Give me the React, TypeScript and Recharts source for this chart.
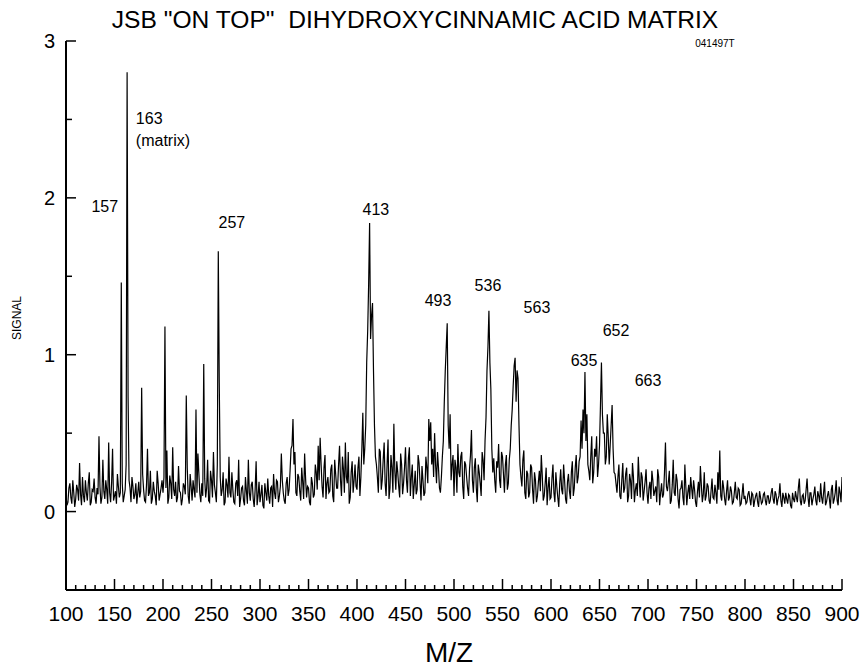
import React from 'react';
import { LineChart, Line, XAxis, YAxis, ReferenceDot } from 'recharts';

// Spectrum readings at even m/z, 100 to 900
const EVEN_START = 100;
const evenSignal: number[] = [
  /* 100 */ 0.10, 0.06, 0.18, 0.05, 0.12, 0.08, 0.14, 0.31, 0.04, 0.10,
  /* 120 */ 0.20, 0.07, 0.25, 0.06, 0.13, 0.09, 0.15, 0.48, 0.05, 0.33,
  /* 140 */ 0.08, 0.14, 0.44, 0.06, 0.40, 0.10, 0.05, 0.16, 0.12, 0.18,
  /* 160 */ 0.10, 0.30, 0.73, 0.15, 0.22, 0.08, 0.18, 0.12, 0.09, 0.79,
  /* 180 */ 0.14, 0.06, 0.40, 0.12, 0.05, 0.19, 0.10, 0.26, 0.07, 0.15,
  /* 200 */ 0.12, 1.18, 0.39, 0.09, 0.18, 0.41, 0.10, 0.06, 0.29, 0.12,
  /* 220 */ 0.08, 0.16, 0.74, 0.10, 0.24, 0.07, 0.14, 0.65, 0.37, 0.11,
  /* 240 */ 0.18, 0.94, 0.09, 0.33, 0.06, 0.20, 0.38, 0.12, 0.30, 0.82,
  /* 260 */ 0.10, 0.25, 0.06, 0.17, 0.35, 0.09, 0.14, 0.05, 0.20, 0.33,
  /* 280 */ 0.08, 0.16, 0.04, 0.13, 0.33, 0.07, 0.19, 0.03, 0.32, 0.10,
  /* 300 */ 0.06, 0.17, 0.02, 0.12, 0.21, 0.05, 0.16, 0.24, 0.08, 0.19,
  /* 320 */ 0.10, 0.37, 0.12, 0.05, 0.22, 0.14, 0.40, 0.59, 0.38, 0.10,
  /* 340 */ 0.22, 0.07, 0.19, 0.37, 0.09, 0.15, 0.04, 0.18, 0.11, 0.25,
  /* 360 */ 0.42, 0.47, 0.16, 0.28, 0.08, 0.22, 0.13, 0.30, 0.06, 0.24,
  /* 380 */ 0.15, 0.42, 0.10, 0.27, 0.44, 0.18, 0.05, 0.25, 0.12, 0.30,
  /* 400 */ 0.14, 0.35, 0.22, 0.63, 0.40, 0.95, 1.45, 1.10, 1.33, 0.55,
  /* 420 */ 0.30, 0.12, 0.38, 0.20, 0.44, 0.10, 0.46, 0.15, 0.28, 0.56,
  /* 440 */ 0.14, 0.25, 0.09, 0.30, 0.18, 0.41, 0.12, 0.41, 0.22, 0.08,
  /* 460 */ 0.26, 0.14, 0.31, 0.07, 0.20, 0.12, 0.28, 0.59, 0.57, 0.40,
  /* 480 */ 0.50, 0.18, 0.28, 0.12, 0.35, 0.70, 1.05, 0.55, 0.62, 0.30,
  /* 500 */ 0.10, 0.28, 0.43, 0.22, 0.38, 0.08, 0.30, 0.15, 0.27, 0.52,
  /* 520 */ 0.12, 0.34, 0.06, 0.25, 0.10, 0.33, 0.45, 0.90, 1.28, 0.78,
  /* 540 */ 0.25, 0.20, 0.32, 0.43, 0.15, 0.35, 0.12, 0.36, 0.18, 0.40,
  /* 560 */ 0.65, 0.93, 0.70, 0.85, 0.30, 0.16, 0.39, 0.08, 0.24, 0.12,
  /* 580 */ 0.28, 0.05, 0.20, 0.10, 0.26, 0.36, 0.07, 0.18, 0.04, 0.22,
  /* 600 */ 0.09, 0.30, 0.06, 0.16, 0.03, 0.27, 0.11, 0.20, 0.05, 0.24,
  /* 620 */ 0.08, 0.32, 0.15, 0.36, 0.22, 0.35, 0.40, 0.50, 0.45, 0.30,
  /* 640 */ 0.20, 0.48, 0.25, 0.35, 0.22, 0.42, 0.95, 0.50, 0.30, 0.62,
  /* 660 */ 0.30, 0.55, 0.40, 0.24, 0.12, 0.30, 0.08, 0.31, 0.15, 0.28,
  /* 680 */ 0.10, 0.20, 0.31, 0.06, 0.18, 0.35, 0.09, 0.22, 0.13, 0.27,
  /* 700 */ 0.05, 0.19, 0.26, 0.10, 0.16, 0.27, 0.04, 0.18, 0.11, 0.44,
  /* 720 */ 0.13, 0.26, 0.07, 0.33, 0.10, 0.20, 0.02, 0.15, 0.09, 0.30,
  /* 740 */ 0.04, 0.17, 0.22, 0.08, 0.14, 0.03, 0.19, 0.29, 0.06, 0.25,
  /* 760 */ 0.10, 0.16, 0.05, 0.21, 0.08, 0.12, 0.25, 0.39, 0.07, 0.15,
  /* 780 */ 0.04, 0.20, 0.09, 0.13, 0.06, 0.19, 0.08, 0.14, 0.05, 0.18,
  /* 800 */ 0.10, 0.06, 0.13, 0.04, 0.11, 0.07, 0.12, 0.03, 0.09, 0.06,
  /* 820 */ 0.12, 0.04, 0.10, 0.07, 0.15, 0.05, 0.11, 0.08, 0.18, 0.03,
  /* 840 */ 0.09, 0.12, 0.05, 0.10, 0.02, 0.08, 0.13, 0.06, 0.21, 0.04,
  /* 860 */ 0.11, 0.07, 0.21, 0.03, 0.12, 0.08, 0.16, 0.04, 0.10, 0.18,
  /* 880 */ 0.05, 0.19, 0.06, 0.13, 0.02, 0.17, 0.08, 0.20, 0.04, 0.12,
  /* 900 */ 0.22,
];

// Spectrum readings at odd m/z, 101 to 899
const ODD_START = 101;
const oddSignal: number[] = [
  /* 101 */ 0.04, 0.15, 0.09, 0.20, 0.03, 0.17, 0.07, 0.11, 0.22, 0.06,
  /* 121 */ 0.12, 0.18, 0.04, 0.14, 0.21, 0.05, 0.11, 0.16, 0.09, 0.13,
  /* 141 */ 0.20, 0.05, 0.12, 0.18, 0.07, 0.13, 0.24, 0.09, 0.10, 0.06,
  /* 161 */ 0.14, 0.30, 0.20, 0.06, 0.16, 0.11, 0.05, 0.19, 0.13, 0.24,
  /* 181 */ 0.07, 0.17, 0.10, 0.26, 0.08, 0.13, 0.04, 0.18, 0.11, 0.20,
  /* 201 */ 0.22, 0.15, 0.05, 0.23, 0.08, 0.14, 0.19, 0.09, 0.13, 0.04,
  /* 221 */ 0.18, 0.11, 0.28, 0.05, 0.16, 0.20, 0.09, 0.12, 0.24, 0.06,
  /* 241 */ 0.10, 0.21, 0.15, 0.07, 0.26, 0.09, 0.17, 0.06, 0.50, 0.22,
  /* 261 */ 0.14, 0.04, 0.21, 0.09, 0.12, 0.25, 0.06, 0.18, 0.10, 0.03,
  /* 281 */ 0.15, 0.07, 0.22, 0.05, 0.12, 0.17, 0.08, 0.14, 0.04, 0.19,
  /* 301 */ 0.11, 0.04, 0.18, 0.07, 0.10, 0.15, 0.03, 0.12, 0.20, 0.06,
  /* 321 */ 0.16, 0.20, 0.07, 0.18, 0.10, 0.26, 0.42, 0.30, 0.12, 0.24,
  /* 341 */ 0.13, 0.28, 0.08, 0.21, 0.16, 0.06, 0.22, 0.09, 0.30, 0.14,
  /* 361 */ 0.20, 0.30, 0.09, 0.36, 0.18, 0.12, 0.27, 0.10, 0.33, 0.15,
  /* 381 */ 0.30, 0.20, 0.35, 0.12, 0.22, 0.38, 0.09, 0.32, 0.20, 0.16,
  /* 401 */ 0.28, 0.10, 0.40, 0.30, 0.55, 1.15, 1.60, 1.25, 0.90, 0.35,
  /* 421 */ 0.22, 0.40, 0.14, 0.33, 0.18, 0.30, 0.08, 0.36, 0.12, 0.26,
  /* 441 */ 0.32, 0.16, 0.37, 0.11, 0.28, 0.20, 0.34, 0.10, 0.30, 0.17,
  /* 461 */ 0.11, 0.36, 0.18, 0.29, 0.10, 0.35, 0.18, 0.45, 0.30, 0.22,
  /* 481 */ 0.30, 0.38, 0.15, 0.22, 0.45, 0.90, 1.00, 0.40, 0.20, 0.36,
  /* 501 */ 0.33, 0.12, 0.25, 0.35, 0.16, 0.32, 0.22, 0.10, 0.36, 0.20,
  /* 521 */ 0.28, 0.15, 0.30, 0.18, 0.38, 0.20, 0.60, 1.05, 0.95, 0.40,
  /* 541 */ 0.34, 0.12, 0.28, 0.20, 0.38, 0.24, 0.30, 0.14, 0.33, 0.55,
  /* 561 */ 0.80, 0.90, 0.90, 0.55, 0.22, 0.33, 0.12, 0.26, 0.09, 0.30,
  /* 581 */ 0.14, 0.25, 0.06, 0.19, 0.13, 0.23, 0.10, 0.28, 0.15, 0.08,
  /* 601 */ 0.21, 0.12, 0.25, 0.09, 0.18, 0.14, 0.30, 0.08, 0.19, 0.13,
  /* 621 */ 0.25, 0.10, 0.28, 0.18, 0.32, 0.58, 0.65, 0.80, 0.62, 0.26,
  /* 641 */ 0.35, 0.18, 0.40, 0.48, 0.30, 0.68, 0.62, 0.50, 0.35, 0.48,
  /* 661 */ 0.42, 0.60, 0.25, 0.18, 0.22, 0.10, 0.20, 0.12, 0.24, 0.06,
  /* 681 */ 0.24, 0.08, 0.22, 0.14, 0.10, 0.20, 0.25, 0.07, 0.19, 0.12,
  /* 701 */ 0.15, 0.08, 0.20, 0.13, 0.06, 0.22, 0.12, 0.09, 0.25, 0.16,
  /* 721 */ 0.19, 0.05, 0.17, 0.12, 0.24, 0.08, 0.14, 0.20, 0.04, 0.16,
  /* 741 */ 0.12, 0.08, 0.15, 0.20, 0.06, 0.13, 0.09, 0.17, 0.11, 0.07,
  /* 761 */ 0.18, 0.07, 0.13, 0.09, 0.17, 0.05, 0.14, 0.10, 0.20, 0.08,
  /* 781 */ 0.13, 0.07, 0.16, 0.05, 0.12, 0.09, 0.15, 0.04, 0.11, 0.08,
  /* 801 */ 0.05, 0.11, 0.08, 0.12, 0.03, 0.10, 0.06, 0.13, 0.05, 0.11,
  /* 821 */ 0.07, 0.10, 0.05, 0.12, 0.08, 0.13, 0.04, 0.10, 0.07, 0.12,
  /* 841 */ 0.05, 0.08, 0.11, 0.04, 0.12, 0.06, 0.09, 0.15, 0.07, 0.10,
  /* 861 */ 0.05, 0.14, 0.09, 0.12, 0.04, 0.11, 0.07, 0.13, 0.06, 0.09,
  /* 881 */ 0.12, 0.04, 0.10, 0.08, 0.14, 0.05, 0.12, 0.07, 0.16, 0.06,
];

// Labelled peaks
const peakMz = [157, 163, 257, 413, 493, 536, 563, 635, 652, 663];
const peakSignal = [1.46, 2.8, 1.66, 1.84, 1.2, 1.28, 0.98, 0.89, 0.95, 0.68];

// Annotation text and where it sits (data units)
const noteText = ['157', '163', '(matrix)', '257', '413', '493', '536', '563', '635', '652', '663'];
const noteMz = [140, 172, 172, 271, 419.5, 483.5, 535, 585.5, 634, 667, 700];
const noteSignal = [1.94, 2.5, 2.36, 1.84, 1.92, 1.34, 1.44, 1.3, 0.96, 1.15, 0.83];
const noteAnchor = ['middle', 'start', 'start', 'middle', 'middle', 'middle', 'middle', 'middle', 'middle', 'middle', 'middle'];

const xMajorTicks = [100, 150, 200, 250, 300, 350, 400, 450, 500, 550, 600, 650, 700, 750, 800, 850, 900];
const yMajorTicks = [0, 1, 2, 3];
const yMinorTicks = [0.5, 1.5, 2.5];

const xTicks: number[] = [];
for (let v = 100; v <= 900; v += 10) xTicks.push(v);
const yTicks = [...yMajorTicks, ...yMinorTicks].sort((a, b) => a - b);

const spectrum = [
  ...evenSignal.map((signal, i) => ({ mz: EVEN_START + i * 2, signal })),
  ...oddSignal.map((signal, i) => ({ mz: ODD_START + i * 2, signal })),
]
  .filter((p) => !peakMz.includes(p.mz))
  .concat(peakMz.map((mz, i) => ({ mz, signal: peakSignal[i] })))
  .sort((a, b) => a.mz - b.mz);

const FONT = '"Liberation Sans", Arial, Helvetica, sans-serif';

const XTick = (props: any) => {
  const { x, y, payload } = props;
  const v = payload.value as number;
  const major = xMajorTicks.includes(v);
  return (
    <g>
      <line x1={x} x2={x} y1={y} y2={y - (major ? 11 : 5)} stroke="#000" strokeWidth={1.5} />
      {major && (
        <text x={x} y={y + 31} textAnchor="middle" fontSize={21} fontFamily={FONT} fill="#000">
          {v}
        </text>
      )}
    </g>
  );
};

const YTick = (props: any) => {
  const { x, y, payload } = props;
  const v = payload.value as number;
  const major = yMajorTicks.includes(v);
  return (
    <g>
      <line x1={x} x2={x + (major ? 10 : 6)} y1={y} y2={y} stroke="#000" strokeWidth={1.5} />
      {major && (
        <text x={x - 11} y={y + 7} textAnchor="end" fontSize={20} fontFamily={FONT} fill="#000">
          {v}
        </text>
      )}
    </g>
  );
};

export default function App() {
  return (
    <div style={{ position: 'absolute', left: 0, top: 0, width: 863, height: 667, background: '#fff' }}>
      <LineChart
        width={863}
        height={667}
        data={spectrum}
        margin={{ top: 41, right: 21, bottom: 37, left: 0 }}
      >
        <XAxis
          dataKey="mz"
          type="number"
          domain={[100, 900]}
          ticks={xTicks}
          interval={0}
          tick={<XTick />}
          tickLine={false}
          tickSize={0}
          tickMargin={0}
          height={40}
          axisLine={{ stroke: '#000', strokeWidth: 2 }}
          allowDataOverflow
        />
        <YAxis
          type="number"
          domain={[-0.5, 3]}
          ticks={yTicks}
          interval={0}
          tick={<YTick />}
          tickLine={false}
          tickSize={0}
          tickMargin={0}
          width={66}
          axisLine={{ stroke: '#000', strokeWidth: 2 }}
          allowDataOverflow
        />
        <Line
          dataKey="signal"
          type="linear"
          stroke="#000"
          strokeWidth={1.2}
          dot={false}
          isAnimationActive={false}
        />
        {noteText.map((t, i) => (
          <ReferenceDot
            key={t}
            x={noteMz[i]}
            y={noteSignal[i]}
            ifOverflow="visible"
            shape={(p: any) => (
              <text
                x={p.cx}
                y={p.cy + 5}
                textAnchor={noteAnchor[i] as any}
                fontSize={16}
                fontFamily={FONT}
                fill="#000"
              >
                {t}
              </text>
            )}
          />
        ))}
      </LineChart>
      <svg
        width={863}
        height={667}
        style={{ position: 'absolute', left: 0, top: 0, pointerEvents: 'none' }}
      >
        <text
          x={415}
          y={28}
          textAnchor="middle"
          fontSize={24.6}
          fontFamily={FONT}
          fill="#000"
          style={{ whiteSpace: 'pre' }}
        >
          {'JSB "ON TOP"  DIHYDROXYCINNAMIC ACID MATRIX'}
        </text>
        <text x={715} y={47} textAnchor="middle" fontSize={10} fontFamily={FONT} fill="#000">
          041497T
        </text>
        <text
          x={21}
          y={318}
          transform="rotate(-90 21 318)"
          textAnchor="middle"
          fontSize={12}
          fontFamily={FONT}
          fill="#000"
        >
          SIGNAL
        </text>
        <text x={449} y={662} textAnchor="middle" fontSize={28} fontFamily={FONT} fill="#000">
          M/Z
        </text>
      </svg>
    </div>
  );
}
